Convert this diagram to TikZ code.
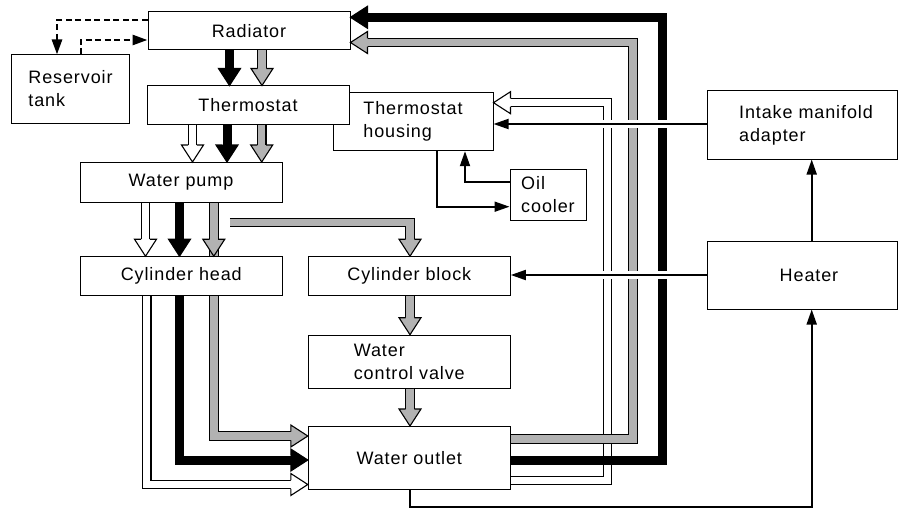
\documentclass[tikz,border=0pt]{standalone}
\usepackage{fontspec}
\setmainfont{Liberation Sans}[LetterSpace=5]
\usetikzlibrary{arrows.meta}

\tikzset{
  box/.style={draw, line width=1pt, fill=white, inner sep=0pt, align=left},
  flow/.style={line width=1.8pt, -{Triangle[width=10pt,length=15pt]}},
  dashflow/.style={flow, line width=2.7pt, dash pattern=on 6pt off 3.5pt},
  blackpipe/.style={line width=9pt, shorten >=16pt},
  whitepipe/.style={line width=1.1pt, double=white, double distance=7.4pt, shorten >=16pt},
  hatchpipe/.style={line width=1.1pt, double=black!30, double distance=7.4pt, shorten >=16pt},
  pics/head/.style={code={
    \filldraw[line width=1.1pt, fill=#1]
      (-17,4.3) -- (-17,11) -- (0,0) -- (-17,-11) -- (-17,-4.3);
  }},
}

\begin{document}
\begin{tikzpicture}[x=1pt, y=-1pt, font=\fontsize{18}{23}\selectfont]
  \useasboundingbox (0,0) rectangle (903,511);

  % blocks
  \node[box, minimum width=202, minimum height=38] (rad) at (249,31) {Radiator};
  \node[box, minimum width=118, minimum height=68] (res) at (70.5,89) {Reservoir\\tank};
  \node[box, minimum width=160, minimum height=58] (hs) at (413,121.7) {Thermostat\\housing};
  \node[box, minimum width=202, minimum height=38] (th) at (248,105) {Thermostat};
  \node[box, minimum width=202, minimum height=40] (wp) at (181,182.5) {Water pump};
  \node[box, minimum width=76, minimum height=51] (oc) at (548,194.7) {Oil\\cooler};
  \node[box, minimum width=202, minimum height=39] (ch) at (181.3,276.2) {Cylinder head};
  \node[box, minimum width=202, minimum height=39] (cb) at (409.3,276.2) {Cylinder block};
  \node[box, minimum width=202, minimum height=53] (wv) at (409.3,361.7) {Water\\control valve};
  \node[box, minimum width=202, minimum height=63] (out) at (409.3,458) {Water outlet};
  \node[box, minimum width=190, minimum height=68] (im) at (802,125) {\hspace*{8pt}Intake manifold\\\hspace*{8pt}adapter};
  \node[box, minimum width=190, minimum height=68] (ht) at (802,275) {\hspace*{14pt}Heater};

  % corners of the return pipes
  \coordinate (wr) at (607.5,102.7);
  \coordinate (hr) at (633,42.5);
  \coordinate (br) at (662.5,17.3);
  \coordinate (bend) at (410,507.3);

  % radiator -> thermostat
  \draw[blackpipe] (rad.south -| 229.5,0) -- (th.north -| 229.5,0);
  \pic[rotate=-90] at (th.north -| 229.5,0) {head=black};
  \draw[hatchpipe] (rad.south -| 262,0) -- (th.north -| 262,0);
  \pic[rotate=-90] at (th.north -| 262,0) {head=black!30};

  % thermostat -> water pump
  \draw[whitepipe] (th.south -| 192.5,0) -- (wp.north -| 192.5,0);
  \pic[rotate=-90] at (wp.north -| 192.5,0) {head=white};
  \draw[blackpipe] (th.south -| 227,0) -- (wp.north -| 227,0);
  \pic[rotate=-90] at (wp.north -| 227,0) {head=black};
  \draw[hatchpipe] (th.south -| 261.7,0) -- (wp.north -| 261.7,0);
  \pic[rotate=-90] at (wp.north -| 261.7,0) {head=black!30};

  % water pump -> cylinder head / block
  \draw[whitepipe] (wp.south -| 145.5,0) -- (ch.north -| 145.5,0);
  \pic[rotate=-90] at (ch.north -| 145.5,0) {head=white};
  \draw[blackpipe] (wp.south -| 179.5,0) -- (ch.north -| 179.5,0);
  \pic[rotate=-90] at (ch.north -| 179.5,0) {head=black};
  \draw[hatchpipe, shorten <=16pt] (ch.north -| 213.8,0) -- (wp.south -| 213.8,0)
    (213.8,222.5) -| (cb.north -| 410,0);
  \pic[rotate=-90] at (ch.north -| 213.8,0) {head=black!30};
  \pic[rotate=-90] at (cb.north -| 410,0) {head=black!30};

  % cylinder block -> valve -> outlet
  \draw[hatchpipe] (cb.south -| 410,0) -- (wv.north -| 410,0);
  \pic[rotate=-90] at (wv.north -| 410,0) {head=black!30};
  \draw[hatchpipe] (wv.south -| 410,0) -- (out.north -| 410,0);
  \pic[rotate=-90] at (out.north -| 410,0) {head=black!30};

  % cylinder head -> outlet
  \draw[whitepipe] (ch.south -| 146.7,0) |- (out.west |- 0,484.5);
  \pic at (out.west |- 0,484.5) {head=white};
  \draw[blackpipe] (ch.south -| 179.5,0) |- (out.west |- 0,460);
  \pic at (out.west |- 0,460) {head=black};
  \draw[hatchpipe] (ch.south -| 213.8,0) |- (out.west |- 0,436);
  \pic at (out.west |- 0,436) {head=black!30};

  % outlet -> thermostat housing / radiator
  \draw[whitepipe] (out.east |- 0,480.5) -| (wr) -- (hs.east |- wr);
  \pic[rotate=180] at (hs.east |- wr) {head=white};
  \draw[hatchpipe] (out.east |- 0,439) -| (hr) -- (rad.east |- hr);
  \pic[rotate=180] at (rad.east |- hr) {head=black!30};
  \draw[blackpipe] (out.east |- 0,460.5) -| (br) -- (rad.east |- br);
  \pic[rotate=180] at (rad.east |- br) {head=black};

  % gaps where the thin lines cross
  \fill[white] (596,120) rectangle (672,128);
  \fill[white] (596,271) rectangle (672,279);

  % reservoir tank
  \draw[dashflow] (rad.west |- 0,20) -| (res.north -| 57,0);
  \draw[dashflow] (res.north -| 81,0) |- (rad.west |- 0,40);

  % oil cooler
  \draw[flow] (hs.south -| 436.7,0) |- (oc.west |- 0,206.7);
  \draw[flow] (oc.west |- 0,181.7) -| (hs.south -| 465,0);

  % heater circuit
  \draw[flow] (out.south -| bend) -- (bend) -| (ht.south -| 811.7,0);
  \draw[flow] (ht.north -| 811.7,0) -- (im.south -| 811.7,0);
  \draw[flow] (im.west |- 0,124) -- (hs.east |- 0,124);
  \draw[flow] (ht.west |- 0,275) -- (cb.east |- 0,275);
\end{tikzpicture}
\end{document}
